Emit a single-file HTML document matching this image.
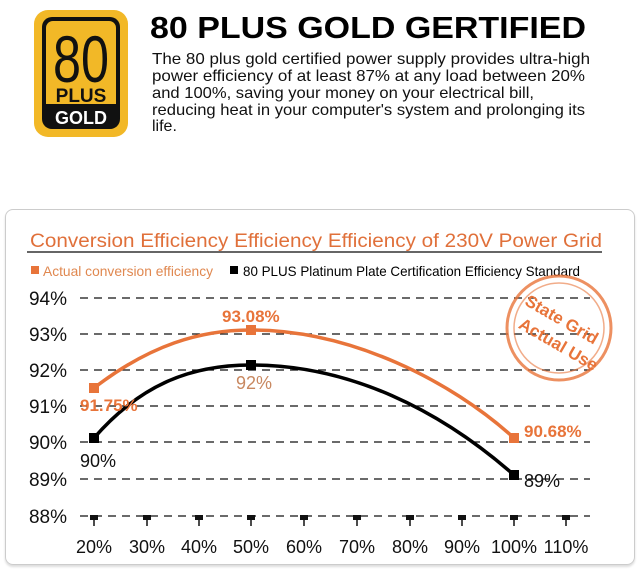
<!DOCTYPE html><html><head><style>
body{margin:0;width:640px;height:574px;background:#fff;font-family:"Liberation Sans",sans-serif;position:relative;overflow:hidden}
.a{position:absolute}
</style></head><body>
<div class="a" style="left:34px;top:10px;width:94px;height:127px;background:#f2b827;border-radius:14px"></div>
<div class="a" style="left:42px;top:17px;width:78px;height:112px;background:#111;border-radius:10px"></div>
<div class="a" style="left:46px;top:21px;width:70px;height:83px;background:#f2b827;border-radius:7px 7px 0 0"></div>
<div class="a" style="left:5px;top:209px;width:628px;height:354px;border:1px solid #ccc;border-radius:8px;box-shadow:0 2px 2px #ddd"></div>
<svg class="a" style="left:0;top:0" width="640" height="574">
<text x="81" y="82" font-size="66" fill="#111" text-anchor="middle" textLength="56" lengthAdjust="spacingAndGlyphs">80</text>
<text x="81" y="102" font-size="19" font-weight="bold" fill="#111" text-anchor="middle">PLUS</text>
<text x="81" y="124" font-size="18" font-weight="bold" fill="#fff" text-anchor="middle">GOLD</text>
<text x="150" y="38" font-size="31" font-weight="bold" fill="#000" textLength="436" lengthAdjust="spacingAndGlyphs">80 PLUS GOLD GERTIFIED</text>
<g font-size="16" fill="#111" lengthAdjust="spacingAndGlyphs">
<text x="152" y="64" textLength="438" lengthAdjust="spacingAndGlyphs">The 80 plus gold certified power supply provides ultra-high</text>
<text x="152" y="81" textLength="433" lengthAdjust="spacingAndGlyphs">power efficiency of at least 87% at any load between 20%</text>
<text x="152" y="98" textLength="382" lengthAdjust="spacingAndGlyphs">and 100%, saving your money on your electrical bill,</text>
<text x="152" y="115" textLength="433" lengthAdjust="spacingAndGlyphs">reducing heat in your computer's system and prolonging its</text>
<text x="152" y="131">life.</text></g>
<text x="30" y="247" font-size="19" fill="#e0703a" textLength="572" lengthAdjust="spacingAndGlyphs">Conversion Efficiency Efficiency Efficiency of 230V Power Grid</text>
<line x1="27" y1="252" x2="602" y2="252" stroke="#333" stroke-width="1.5"/>
<rect x="31" y="266" width="8" height="8" fill="#e8743a"/>
<text x="43" y="276" font-size="14" fill="#e08850" textLength="170" lengthAdjust="spacingAndGlyphs">Actual conversion efficiency</text>
<rect x="230" y="266" width="8" height="8" fill="#000"/>
<text x="243" y="276" font-size="14" fill="#000" textLength="337" lengthAdjust="spacingAndGlyphs">80 PLUS Platinum Plate Certification Efficiency Standard</text>
<g font-size="19" fill="#111" text-anchor="end">
<text x="67" y="305">94%</text><text x="67" y="341">93%</text><text x="67" y="377">92%</text><text x="67" y="413">91%</text><text x="67" y="449">90%</text><text x="67" y="486">89%</text><text x="67" y="523">88%</text></g>
<g stroke="#111" stroke-width="1.3" stroke-dasharray="8,6">
<line x1="80" y1="298" x2="590" y2="298"/><line x1="80" y1="334" x2="590" y2="334"/><line x1="80" y1="370" x2="590" y2="370"/><line x1="80" y1="406" x2="590" y2="406"/><line x1="80" y1="442" x2="590" y2="442"/><line x1="80" y1="479" x2="590" y2="479"/><line x1="80" y1="516" x2="590" y2="516"/></g>
<g fill="#111" font-size="18" text-anchor="middle">
<rect x="90" y="515" width="8" height="5"/><rect x="143" y="515" width="8" height="5"/><rect x="195" y="515" width="8" height="5"/><rect x="247" y="515" width="8" height="5"/><rect x="300" y="515" width="8" height="5"/><rect x="353" y="515" width="8" height="5"/><rect x="406" y="515" width="8" height="5"/><rect x="458" y="515" width="8" height="5"/><rect x="510" y="515" width="8" height="5"/><rect x="562" y="515" width="8" height="5"/>
<text x="94" y="553">20%</text><text x="147" y="553">30%</text><text x="199" y="553">40%</text><text x="251" y="553">50%</text><text x="304" y="553">60%</text><text x="357" y="553">70%</text><text x="410" y="553">80%</text><text x="462" y="553">90%</text><text x="514" y="553">100%</text><text x="566" y="553">110%</text></g>
<g stroke="#111" stroke-width="1.5"><line x1="94" y1="520" x2="94" y2="526"/><line x1="147" y1="520" x2="147" y2="526"/><line x1="199" y1="520" x2="199" y2="526"/><line x1="251" y1="520" x2="251" y2="526"/><line x1="304" y1="520" x2="304" y2="526"/><line x1="357" y1="520" x2="357" y2="526"/><line x1="410" y1="520" x2="410" y2="526"/><line x1="462" y1="520" x2="462" y2="526"/><line x1="514" y1="520" x2="514" y2="526"/><line x1="566" y1="520" x2="566" y2="526"/></g>
<circle cx="559" cy="328" r="52" fill="none" stroke="#e8743a" stroke-width="3" opacity=".8"/>
<circle cx="559" cy="328" r="45" fill="none" stroke="#e8743a" stroke-width="1.5" opacity=".6"/>
<text x="520" y="322" font-size="17" font-weight="bold" fill="#e8743a" transform="rotate(30 555 320)">State Grid</text>
<text x="513" y="346" font-size="17" font-weight="bold" fill="#e8743a" transform="rotate(30 550 345)">Actual Use</text>
<path d="M94 388 C150 345 200 330 251 330 C350 330 450 380 514 438" fill="none" stroke="#e8743a" stroke-width="3.5"/>
<path d="M94 438 C140 385 190 365 251 365 C350 365 440 410 514 475" fill="none" stroke="#000" stroke-width="3.5"/>
<rect x="89" y="383" width="10" height="10" fill="#e8743a"/><rect x="246" y="325" width="10" height="10" fill="#e8743a"/><rect x="509" y="433" width="10" height="10" fill="#e8743a"/>
<rect x="89" y="433" width="10" height="10" fill="#000"/><rect x="246" y="360" width="10" height="10" fill="#000"/><rect x="509" y="470" width="10" height="10" fill="#000"/>
<g font-size="17" font-weight="bold" fill="#e8743a"><text x="222" y="322">93.08%</text><text x="80" y="411">91.75%</text><text x="524" y="437">90.68%</text></g>
<g font-size="18" fill="#111"><text x="80" y="467">90%</text><text x="524" y="487">89%</text><text x="236" y="389" fill="#c88860">92%</text></g>
</svg>
</body></html>
